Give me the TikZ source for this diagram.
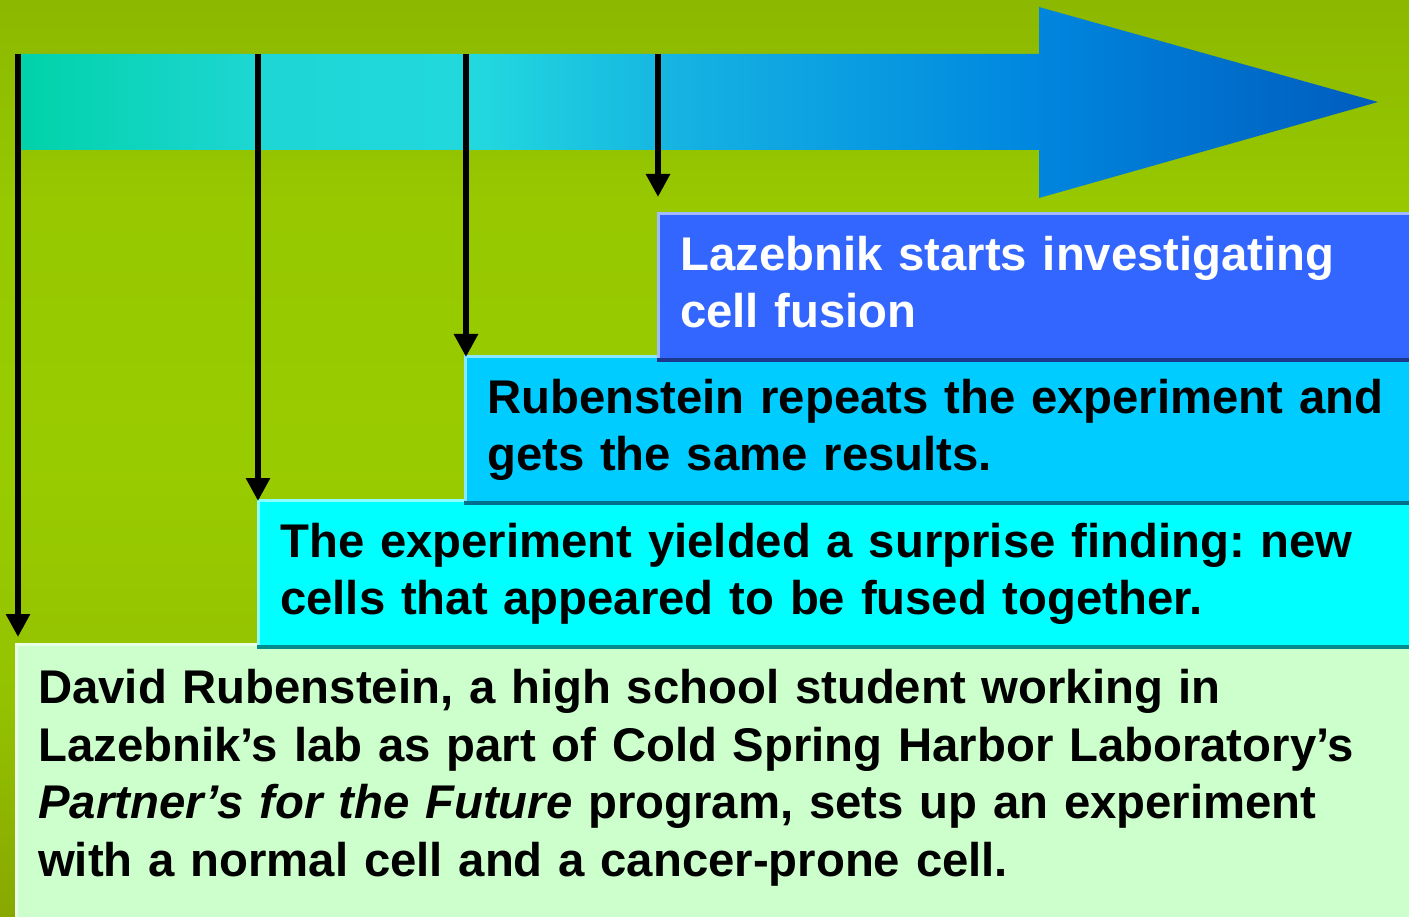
\documentclass[tikz,border=0pt]{standalone}
\usepackage{fontspec}
\setmainfont{Liberation Sans}
\usetikzlibrary{arrows.meta}
\frenchspacing

\definecolor{fieldtop}{HTML}{8CB800}
\definecolor{fieldhigh}{HTML}{97C800}
\definecolor{fieldmid}{HTML}{99CC00}
\definecolor{fieldlow}{HTML}{94C200}
\definecolor{fieldbot}{HTML}{88A800}
\definecolor{boxblue}{HTML}{3366FF}
\definecolor{boxsky}{HTML}{00CCFF}
\definecolor{boxcyan}{HTML}{00FFFF}
\definecolor{boxmint}{HTML}{CCFFCC}
\definecolor{tlA}{HTML}{00D2A8}
\definecolor{tlB}{HTML}{1ED6D4}
\definecolor{tlC}{HTML}{22D8DE}
\definecolor{tlD}{HTML}{14B0E2}
\definecolor{tlE}{HTML}{0088DF}
\definecolor{tlF}{HTML}{005CBE}

\pgfdeclarehorizontalshading{timeline}{100bp}{color(0bp)=(tlA); color(25bp)=(tlA);
  color(34bp)=(tlB); color(42bp)=(tlC); color(50bp)=(tlD); color(62bp)=(tlE);
  color(75bp)=(tlF); color(100bp)=(tlF)}
\pgfdeclareverticalshading{field}{100bp}{color(0bp)=(fieldbot); color(25bp)=(fieldbot);
  color(37bp)=(fieldlow); color(50bp)=(fieldmid); color(64bp)=(fieldhigh);
  color(75bp)=(fieldtop); color(100bp)=(fieldtop)}

\tikzset{
  stage/.style={anchor=north west, minimum height=149pt, inner xsep=23pt, inner ysep=0pt,
    align=left, fill=#1, font=\bfseries\fontsize{47.3}{57.5}\selectfont,
    path picture={
      \draw[line width=6pt, #1!45!white] (path picture bounding box.south west)
        -- (path picture bounding box.north west) -- (path picture bounding box.north east);
      \draw[line width=6pt, #1!55!black] (path picture bounding box.south west)
        -- (path picture bounding box.south east);
    }},
  drop/.style={line width=6pt, -{Triangle[width=23pt,length=23pt]}},
}

\begin{document}
\begin{tikzpicture}[x=1pt,y=-1pt]
  \useasboundingbox (0,0) rectangle (1409,917);
  \clip (0,0) rectangle (1409,917);

  % background field
  \shade[shading=field] (0,0) rectangle (1409,917);

  % timeline arrow
  \shade[shading=timeline] (15,54) -- (1039,54) -- (1039,7) -- (1378,102)
    -- (1039,198) -- (1039,150) -- (15,150) -- cycle;

  % stage boxes, bottom one first
  \node[stage=boxmint, text width=1400pt, minimum height=299pt] (david) at (15,643)
    {David Rubenstein, a high school student working in\\
     Lazebnik’s lab as part of Cold Spring Harbor Laboratory’s\\
     \textit{Partner’s for the Future} program, sets up an experiment\\
     with a normal cell and a cancer-prone cell.\rule[-40pt]{0pt}{0pt}};
  \node[stage=boxcyan, text width=1160pt] (fusion) at (257,499)
    {The experiment yielded a surprise finding: new\\
     cells that appeared to be fused together.};
  \node[stage=boxsky, text width=960pt] (repeat) at (464,355)
    {Rubenstein repeats the experiment and\\
     gets the same results.};
  \node[stage=boxblue, text width=760pt, text=white] (lazebnik) at (657,212)
    {Lazebnik starts investigating\\
     cell fusion\vphantom{g}};

  % drops from the timeline
  \coordinate (t1) at (18,54);
  \coordinate (t2) at (258,54);
  \coordinate (t3) at (466,54);
  \coordinate (t4) at (658,54);
  \draw[drop, shorten >=6pt] (t1) -- (t1 |- david.north);
  \draw[drop, shorten >=-2pt] (t2) -- (t2 |- fusion.north);
  \draw[drop, shorten >=-2pt] (t3) -- (t3 |- repeat.north);
  \draw[drop, shorten >=15pt] (t4) -- (t4 |- lazebnik.north);
\end{tikzpicture}
\end{document}
